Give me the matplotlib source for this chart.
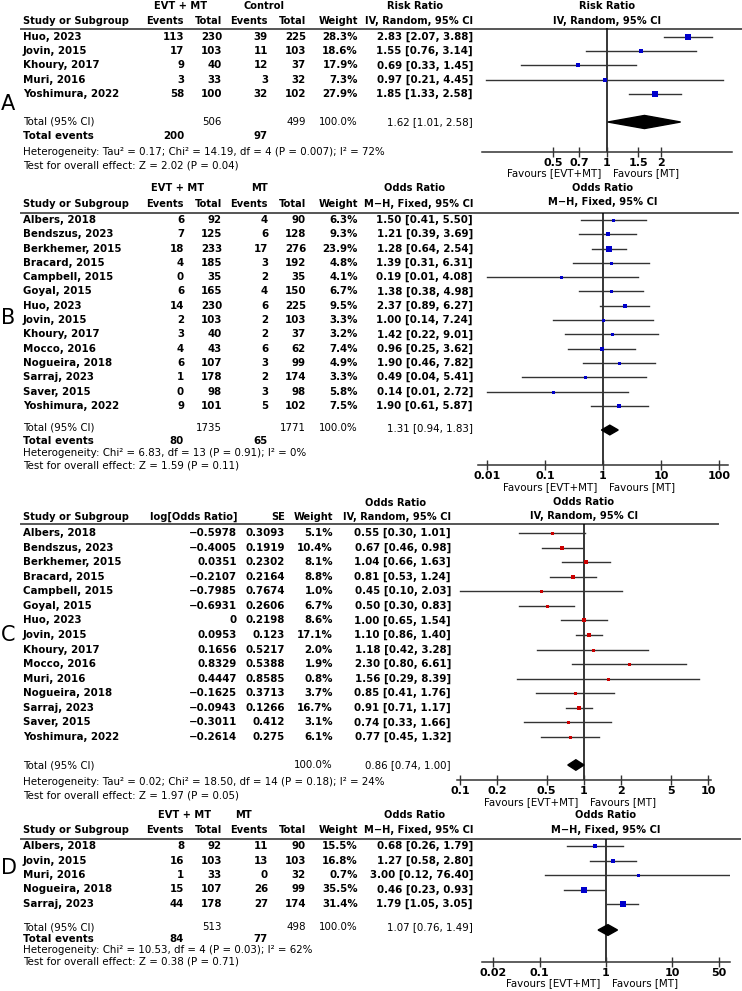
import math
import matplotlib
matplotlib.use("Agg")
import matplotlib.pyplot as plt
from matplotlib.patches import Polygon
from matplotlib.ticker import FixedLocator, FixedFormatter, NullLocator

# ---------------- DATA ----------------
# Panel A (Risk Ratio, IV Random)
a_studies = ["Huo, 2023", "Jovin, 2015", "Khoury, 2017", "Muri, 2016", "Yoshimura, 2022"]
a_evt_events = [113, 17, 9, 3, 58]
a_evt_total = [230, 103, 40, 33, 100]
a_ctl_events = [39, 11, 12, 3, 32]
a_ctl_total = [225, 103, 37, 32, 102]
a_weight = [28.3, 18.6, 17.9, 7.3, 27.9]
a_est = [2.83, 1.55, 0.69, 0.97, 1.85]
a_lo = [2.07, 0.76, 0.33, 0.21, 1.33]
a_hi = [3.88, 3.14, 1.45, 4.45, 2.58]
a_total = [506, 499]
a_total_events = [200, 97]
a_pooled = [1.62, 1.01, 2.58]
a_ticks = [0.5, 0.7, 1, 1.5, 2]
a_ticklabels = ["0.5", "0.7", "1", "1.5", "2"]

# Panel B (Odds Ratio, M-H Fixed)
b_studies = ["Albers, 2018", "Bendszus, 2023", "Berkhemer, 2015", "Bracard, 2015",
             "Campbell, 2015", "Goyal, 2015", "Huo, 2023", "Jovin, 2015", "Khoury, 2017",
             "Mocco, 2016", "Nogueira, 2018", "Sarraj, 2023", "Saver, 2015", "Yoshimura, 2022"]
b_evt_events = [6, 7, 18, 4, 0, 6, 14, 2, 3, 4, 6, 1, 0, 9]
b_evt_total = [92, 125, 233, 185, 35, 165, 230, 103, 40, 43, 107, 178, 98, 101]
b_ctl_events = [4, 6, 17, 3, 2, 4, 6, 2, 2, 6, 3, 2, 3, 5]
b_ctl_total = [90, 128, 276, 192, 35, 150, 225, 103, 37, 62, 99, 174, 98, 102]
b_weight = [6.3, 9.3, 23.9, 4.8, 4.1, 6.7, 9.5, 3.3, 3.2, 7.4, 4.9, 3.3, 5.8, 7.5]
b_est = [1.50, 1.21, 1.28, 1.39, 0.19, 1.38, 2.37, 1.00, 1.42, 0.96, 1.90, 0.49, 0.14, 1.90]
b_lo = [0.41, 0.39, 0.64, 0.31, 0.01, 0.38, 0.89, 0.14, 0.22, 0.25, 0.46, 0.04, 0.01, 0.61]
b_hi = [5.50, 3.69, 2.54, 6.31, 4.08, 4.98, 6.27, 7.24, 9.01, 3.62, 7.82, 5.41, 2.72, 5.87]
b_total = [1735, 1771]
b_total_events = [80, 65]
b_pooled = [1.31, 0.94, 1.83]
b_ticks = [0.01, 0.1, 1, 10, 100]
b_ticklabels = ["0.01", "0.1", "1", "10", "100"]

# Panel C (Odds Ratio, IV Random, generic inverse variance)
c_studies = ["Albers, 2018", "Bendszus, 2023", "Berkhemer, 2015", "Bracard, 2015",
             "Campbell, 2015", "Goyal, 2015", "Huo, 2023", "Jovin, 2015", "Khoury, 2017",
             "Mocco, 2016", "Muri, 2016", "Nogueira, 2018", "Sarraj, 2023", "Saver, 2015",
             "Yoshimura, 2022"]
c_logor = [-0.5978, -0.4005, 0.0351, -0.2107, -0.7985, -0.6931, 0, 0.0953, 0.1656,
           0.8329, 0.4447, -0.1625, -0.0943, -0.3011, -0.2614]
c_se = [0.3093, 0.1919, 0.2302, 0.2164, 0.7674, 0.2606, 0.2198, 0.123, 0.5217,
        0.5388, 0.8585, 0.3713, 0.1266, 0.412, 0.275]
c_weight = [5.1, 10.4, 8.1, 8.8, 1.0, 6.7, 8.6, 17.1, 2.0, 1.9, 0.8, 3.7, 16.7, 3.1, 6.1]
c_est = [0.55, 0.67, 1.04, 0.81, 0.45, 0.50, 1.00, 1.10, 1.18, 2.30, 1.56, 0.85, 0.91, 0.74, 0.77]
c_lo = [0.30, 0.46, 0.66, 0.53, 0.10, 0.30, 0.65, 0.86, 0.42, 0.80, 0.29, 0.41, 0.71, 0.33, 0.45]
c_hi = [1.01, 0.98, 1.63, 1.24, 2.03, 0.83, 1.54, 1.40, 3.28, 6.61, 8.39, 1.76, 1.17, 1.66, 1.32]
c_pooled = [0.86, 0.74, 1.00]
c_ticks = [0.1, 0.2, 0.5, 1, 2, 5, 10]
c_ticklabels = ["0.1", "0.2", "0.5", "1", "2", "5", "10"]

# Panel D (Odds Ratio, M-H Fixed)
d_studies = ["Albers, 2018", "Jovin, 2015", "Muri, 2016", "Nogueira, 2018", "Sarraj, 2023"]
d_evt_events = [8, 16, 1, 15, 44]
d_evt_total = [92, 103, 33, 107, 178]
d_ctl_events = [11, 13, 0, 26, 27]
d_ctl_total = [90, 103, 32, 99, 174]
d_weight = [15.5, 16.8, 0.7, 35.5, 31.4]
d_est = [0.68, 1.27, 3.00, 0.46, 1.79]
d_lo = [0.26, 0.58, 0.12, 0.23, 1.05]
d_hi = [1.79, 2.80, 76.40, 0.93, 3.05]
d_total = [513, 498]
d_total_events = [84, 77]
d_pooled = [1.07, 0.76, 1.49]
d_ticks = [0.02, 0.1, 1, 10, 50]
d_ticklabels = ["0.02", "0.1", "1", "10", "50"]

# ---------------- FIGURE ----------------
W, H = 742, 991
plt.rcParams["font.family"] = ["DejaVu Sans"]
fig = plt.figure(figsize=(W / 100, H / 100), dpi=100)
ov = fig.add_axes([0, 0, 1, 1])
ov.set_xlim(0, W)
ov.set_ylim(H, 0)
ov.axis("off")

FS = 7.4
HFS = 7.1
BLUE = "#0000CC"
RED = "#CC0000"
LINEC = "#333333"


def txt(x, y, s, ha="left", fw="bold", fs=FS, **kw):
    ov.text(x, y, s, ha=ha, va="center", fontsize=fs, fontweight=fw, color="black", **kw)


def fmt_ci(e, l, h):
    return f"{e:.2f} [{l:.2f}, {h:.2f}]"


def forest(cx, hw, dec, line_y, axis_y, y0, dy, est, lo, hi, weight, pooled, total_y,
           ticks, ticklabels, color, fav_y, unit, dh):
    x0, x1 = cx - hw, cx + hw
    ax = fig.add_axes([x0 / W, 1 - axis_y / H, (x1 - x0) / W, (axis_y - line_y) / H])
    ax.set_xscale("log")
    ax.set_xlim(unit ** (-dec), unit ** dec)
    ax.set_ylim((axis_y - y0) / dy, (line_y - y0) / dy)
    ax.patch.set_alpha(0)
    for s in ["top", "left", "right"]:
        ax.spines[s].set_visible(False)
    ax.spines["bottom"].set_color(LINEC)
    ax.spines["bottom"].set_linewidth(1.1)
    ax.yaxis.set_major_locator(NullLocator())
    ax.xaxis.set_major_locator(FixedLocator(ticks))
    ax.xaxis.set_major_formatter(FixedFormatter(ticklabels))
    ax.xaxis.set_minor_locator(NullLocator())
    ax.tick_params(axis="x", direction="inout", length=7, width=1, color=LINEC,
                   labelsize=8, pad=1)
    for lab in ax.get_xticklabels():
        lab.set_fontweight("bold")
    ax.axvline(1, color="black", lw=1.1, zorder=1)
    for i in range(len(est)):
        ax.plot([lo[i], hi[i]], [i, i], color=LINEC, lw=1.0, zorder=2, clip_on=True)
        side = max(3.0, 1.15 * weight[i] ** 0.5)
        ax.plot(est[i], i, marker="s", ms=side * 0.72, color=color, mec=color, mew=0,
                zorder=3, clip_on=False)
    r = (total_y - y0) / dy
    e, l, h = pooled
    ax.add_patch(Polygon([(l, r), (e, r - dh), (h, r), (e, r + dh)], closed=True,
                         color="black", zorder=4))
    txt(cx - 6, fav_y, "Favours [EVT+MT]", ha="right", fw="normal", fs=7.4)
    txt(cx + 6, fav_y, "Favours [MT]", ha="left", fw="normal", fs=7.4)
    return ax


def event_table(h1_y, h2_y, line_y, line_end, y0, dy, grp1, grp1_x, grp2, grp2_x, title,
                method, studies, e1, t1, e2, t2, wt, est, lo, hi, total, tot_ev, pooled,
                total_y, ev_y, het_y, test_y, het, test):
    txt(grp1_x, h1_y, grp1, ha="center", fw="semibold", fs=HFS)
    txt(grp2_x, h1_y, grp2, ha="center", fw="semibold", fs=HFS)
    txt(415, h1_y, title, ha="center", fw="bold", fs=HFS)
    txt(23, h2_y, "Study or Subgroup", fw="bold", fs=HFS)
    for x, s in [(184, "Events"), (222, "Total"), (268, "Events"), (306, "Total"),
                 (358, "Weight"), (473, method)]:
        txt(x, h2_y, s, ha="right", fw="semibold", fs=HFS)
    ov.plot([21, line_end], [line_y, line_y], color="#555555", lw=1.4)
    for i in range(len(studies)):
        y = y0 + i * dy
        txt(23, y, studies[i])
        txt(184, y, str(e1[i]), ha="right")
        txt(222, y, str(t1[i]), ha="right")
        txt(268, y, str(e2[i]), ha="right")
        txt(306, y, str(t2[i]), ha="right")
        txt(358, y, f"{wt[i]:.1f}%", ha="right")
        txt(473, y, fmt_ci(est[i], lo[i], hi[i]), ha="right")
    txt(23, total_y, "Total (95% CI)", fw="normal")
    txt(222, total_y, str(total[0]), ha="right", fw="normal")
    txt(306, total_y, str(total[1]), ha="right", fw="normal")
    txt(358, total_y, "100.0%", ha="right", fw="normal")
    txt(473, total_y, fmt_ci(*pooled), ha="right", fw="normal")
    txt(23, ev_y, "Total events")
    txt(184, ev_y, str(tot_ev[0]), ha="right")
    txt(268, ev_y, str(tot_ev[1]), ha="right")
    txt(23, het_y, het, fw="normal")
    txt(23, test_y, test, fw="normal")


# ---------- Panel A ----------
event_table(6, 20.5, 28.5, 742, 37, 14.25, "EVT + MT", 181, "Control", 264, "Risk Ratio",
            "IV, Random, 95% CI", a_studies, a_evt_events, a_evt_total, a_ctl_events,
            a_ctl_total, a_weight, a_est, a_lo, a_hi, a_total, a_total_events, a_pooled,
            122, 136, 152, 165,
            "Heterogeneity: Tau² = 0.17; Chi² = 14.19, df = 4 (P = 0.007); I² = 72%",
            "Test for overall effect: Z = 2.02 (P = 0.04)")
txt(607, 6, "Risk Ratio", ha="center", fs=HFS)
txt(607, 20.5, "IV, Random, 95% CI", ha="center", fw="semibold", fs=HFS)
forest(607, 125, math.log(5), 28.5, 152, 37, 14.25, a_est, a_lo, a_hi, a_weight, a_pooled,
       122, a_ticks, a_ticklabels, BLUE, 173, math.e, 0.46)
txt(1, 104, "A", fw="normal", fs=15)

# ---------- Panel B ----------
event_table(188, 204, 213, 738, 220, 14.3, "EVT + MT", 178, "MT", 260, "Odds Ratio",
            "M\u2212H, Fixed, 95% CI", b_studies, b_evt_events, b_evt_total, b_ctl_events,
            b_ctl_total, b_weight, b_est, b_lo, b_hi, b_total, b_total_events, b_pooled,
            428, 441, 453, 465,
            "Heterogeneity: Chi² = 6.83, df = 13 (P = 0.91); I² = 0%",
            "Test for overall effect: Z = 1.59 (P = 0.11)")
txt(603, 188, "Odds Ratio", ha="center", fs=HFS)
txt(603, 202, "M\u2212H, Fixed, 95% CI", ha="center", fw="semibold", fs=HFS)
forest(603, 125, 2.155, 213, 465, 220, 14.3, b_est, b_lo, b_hi, b_weight, b_pooled,
       430, b_ticks, b_ticklabels, BLUE, 487, 10, 0.34)
txt(1, 318, "B", fw="normal", fs=15)

# ---------- Panel C ----------
txt(396, 503, "Odds Ratio", ha="center", fs=HFS)
txt(23, 517, "Study or Subgroup", fs=HFS)
for x, s in [(237, "log[Odds Ratio]"), (285, "SE"), (333, "Weight"), (451, "IV, Random, 95% CI")]:
    txt(x, 517, s, ha="right", fw="semibold", fs=HFS)
ov.plot([21, 718], [523.5, 523.5], color="#555555", lw=1.4)
for i in range(len(c_studies)):
    y = 533 + i * 14.57
    txt(23, y, c_studies[i])
    txt(237, y, f"{c_logor[i]:g}".replace("-", "\u2212"), ha="right")
    txt(285, y, f"{c_se[i]:g}", ha="right")
    txt(333, y, f"{c_weight[i]:.1f}%", ha="right")
    txt(451, y, fmt_ci(c_est[i], c_lo[i], c_hi[i]), ha="right")
txt(23, 765, "Total (95% CI)", fw="normal")
txt(333, 765, "100.0%", ha="right", fw="normal")
txt(451, 765, fmt_ci(*c_pooled), ha="right", fw="normal")
txt(23, 782, "Heterogeneity: Tau² = 0.02; Chi² = 18.50, df = 14 (P = 0.18); I² = 24%", fw="normal")
txt(23, 796, "Test for overall effect: Z = 1.97 (P = 0.05)", fw="normal")
txt(584, 502, "Odds Ratio", ha="center", fs=HFS)
txt(584, 516, "IV, Random, 95% CI", ha="center", fw="semibold", fs=HFS)
forest(584, 127, 1.024, 523.5, 780, 533, 14.57, c_est, c_lo, c_hi, c_weight, c_pooled,
       765, c_ticks, c_ticklabels, RED, 802, 10, 0.36)
txt(1, 635, "C", fw="normal", fs=15)

# ---------- Panel D ----------
event_table(815, 830, 839, 740, 846, 14.5, "EVT + MT", 185, "MT", 244, "Odds Ratio",
            "M\u2212H, Fixed, 95% CI", d_studies, d_evt_events, d_evt_total, d_ctl_events,
            d_ctl_total, d_weight, d_est, d_lo, d_hi, d_total, d_total_events, d_pooled,
            927, 939, 950, 962,
            "Heterogeneity: Chi² = 10.53, df = 4 (P = 0.03); I² = 62%",
            "Test for overall effect: Z = 0.38 (P = 0.71)")
txt(606, 815, "Odds Ratio", ha="center", fs=HFS)
txt(606, 830, "M\u2212H, Fixed, 95% CI", ha="center", fw="semibold", fs=HFS)
forest(606, 124, 1.865, 839, 962, 846, 14.5, d_est, d_lo, d_hi, d_weight, d_pooled,
       930, d_ticks, d_ticklabels, BLUE, 983, 10, 0.37)
txt(1, 868, "D", fw="normal", fs=15)

fig.savefig("out.png", dpi=100)
